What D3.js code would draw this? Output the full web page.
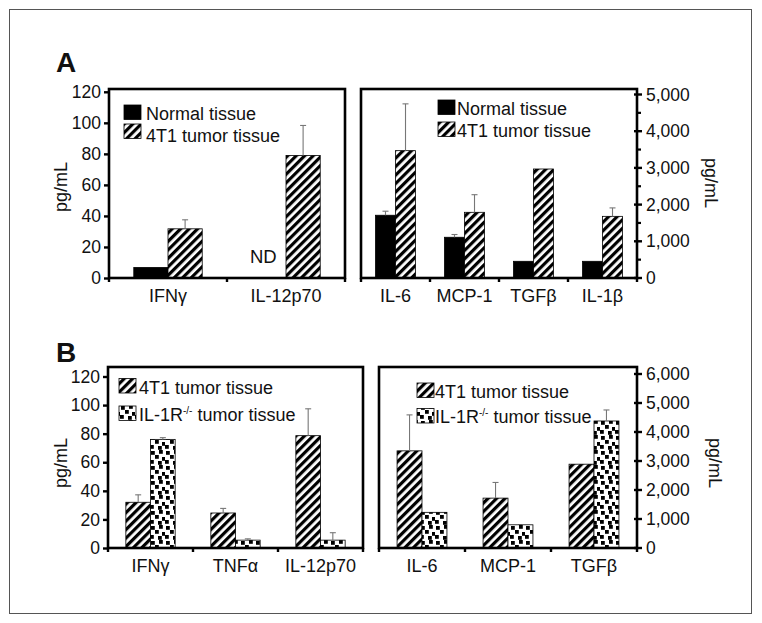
<!DOCTYPE html>
<html><head><meta charset="utf-8">
<script src="https://cdn.jsdelivr.net/npm/d3@7"></script>
<style>body{margin:0;background:#fff}svg{display:block}text{font-family:"Liberation Sans",Arial,sans-serif;fill:#111}</style>
</head><body>
<svg id="c" width="762" height="623"></svg>
<script>
// ---- data ----
const catsA1 = ["IFNγ", "IL-12p70"];
const normalA1 = [6.8, null];          // null = ND
const normalErrA1 = [0, 0];
const tumorA1 = [31.7, 79];
const tumorErrA1 = [5.8, 19.3];

const catsA2 = ["IL-6", "MCP-1", "TGFβ", "IL-1β"];
const normalA2 = [1710, 1110, 455, 455];
const normalErrA2 = [110, 75, 0, 0];
const tumorA2 = [3470, 1790, 2970, 1680];
const tumorErrA2 = [1275, 480, 0, 230];

const catsB1 = ["IFNγ", "TNFα", "IL-12p70"];
const tumorB1 = [32, 24.5, 78.6];
const tumorErrB1 = [5.2, 3.2, 18.8];
const koB1 = [76, 5.5, 5.5];
const koErrB1 = [1.2, 0.9, 5.2];

const catsB2 = ["IL-6", "MCP-1", "TGFβ"];
const tumorB2 = [3350, 1720, 2890];
const tumorErrB2 = [1240, 540, 0];
const koB2 = [1230, 800, 4380];
const koErrB2 = [0, 0, 380];

const ticksLeft = [0, 20, 40, 60, 80, 100, 120];
const ticksA2 = [0, 1000, 2000, 3000, 4000, 5000];
const ticksB2 = [0, 1000, 2000, 3000, 4000, 5000, 6000];

// ---- drawing ----
const svg = d3.select("#c");
const defs = svg.append("defs");
const hatch = defs.append("pattern").attr("id", "hatch").attr("patternUnits", "userSpaceOnUse")
  .attr("width", 6).attr("height", 6).attr("patternTransform", "rotate(45)");
hatch.append("rect").attr("width", 6).attr("height", 6).attr("fill", "#fff");
hatch.append("rect").attr("width", 3.2).attr("height", 6).attr("fill", "#000");
const conf = defs.append("pattern").attr("id", "conf").attr("patternUnits", "userSpaceOnUse")
  .attr("width", 15).attr("height", 15);
conf.append("rect").attr("width", 15).attr("height", 15).attr("fill", "#fff");
[[1,1],[9,0],[5,5],[12,7],[0,10],[8,11]].forEach(p =>
  conf.append("rect").attr("x", p[0]).attr("y", p[1]).attr("width", 3.8).attr("height", 3.8).attr("fill", "#000"));

const fills = { normal: "#000", tumor: "url(#hatch)", ko: "url(#conf)" };

svg.append("rect").attr("x", 9.5).attr("y", 9.5).attr("width", 742).attr("height", 604)
  .attr("fill", "none").attr("stroke", "#555").attr("stroke-width", 1);

function panel(o) {
  const g = svg.append("g");
  const x = d3.scaleBand().domain(o.cats).range([o.x0, o.x1]);
  const y = d3.scaleLinear().domain([0, o.ymaxTick]).range([o.y0, o.yTopTick]);
  const bw = x.bandwidth() * 0.58 / 2;
  o.series.forEach((s, si) => {
    o.cats.forEach((c, i) => {
      const v = s.values[i];
      if (v == null) return;
      const bx = x(c) + x.bandwidth() / 2 - bw + si * bw;
      g.append("rect").attr("x", bx).attr("y", y(v)).attr("width", bw).attr("height", y(0) - y(v))
        .attr("fill", fills[s.key]).attr("stroke", "#000").attr("stroke-width", 0.8);
      const e = s.errs[i];
      if (e > 0) {
        const cx = bx + bw / 2;
        g.append("line").attr("x1", cx).attr("x2", cx).attr("y1", y(v)).attr("y2", y(v + e))
          .attr("stroke", "#777").attr("stroke-width", 1.1);
        g.append("line").attr("x1", cx - 3).attr("x2", cx + 3).attr("y1", y(v + e)).attr("y2", y(v + e))
          .attr("stroke", "#777").attr("stroke-width", 1.1);
      }
    });
  });
  g.append("rect").attr("x", o.x0).attr("y", o.frameTop).attr("width", o.x1 - o.x0).attr("height", o.y0 - o.frameTop)
    .attr("fill", "none").attr("stroke", "#000").attr("stroke-width", 2.6);
  const bounds = o.cats.map(c => x(c)).concat([o.x1]);
  bounds.forEach(b => g.append("line").attr("x1", b).attr("x2", b).attr("y1", o.y0).attr("y2", o.y0 + 4)
    .attr("stroke", "#000").attr("stroke-width", 2.4));
  o.cats.forEach(c => g.append("text").attr("x", x(c) + x.bandwidth() / 2).attr("y", o.catY)
    .attr("text-anchor", "middle").attr("font-size", 18).text(c));
  if (o.side === "left") {
    const ax = g.append("g").attr("transform", `translate(${o.x0},0)`)
      .call(d3.axisLeft(y).tickValues(o.ticks).tickSize(5).tickPadding(3).tickFormat(d3.format("d")));
    ax.select(".domain").remove();
    ax.selectAll("line").attr("stroke-width", 2.4);
    ax.selectAll("text").attr("font-size", 17.5).attr("font-family", "Liberation Sans, Arial, sans-serif").attr("fill", "#111");
    g.append("text").attr("transform", `translate(${o.labX},${o.labY}) rotate(-90)`)
      .attr("text-anchor", "middle").attr("font-size", 18).text("pg/mL");
  } else {
    if (o.minor) {
      o.minor.forEach(t => g.append("line").attr("x1", o.x1).attr("x2", o.x1 + 4).attr("y1", y(t)).attr("y2", y(t))
        .attr("stroke", "#000").attr("stroke-width", 2.2));
    }
    o.ticks.forEach(t => {
      g.append("line").attr("x1", o.x1 - 3).attr("x2", o.x1 + 5).attr("y1", y(t)).attr("y2", y(t))
        .attr("stroke", "#000").attr("stroke-width", 2.4);
      g.append("text").attr("x", o.x1 + 9).attr("y", y(t)).attr("dy", "0.35em")
        .attr("font-size", 17.5).text(d3.format(",")(t));
    });
    g.append("text").attr("transform", `translate(${o.labX},${o.labY}) rotate(90)`)
      .attr("text-anchor", "middle").attr("font-size", 18).text("pg/mL");
  }
  o.legend.forEach((l, i) => {
    g.append("rect").attr("x", l.sx).attr("y", l.sy).attr("width", 17).attr("height", 14.5)
      .attr("fill", fills[l.key]).attr("stroke", "#000").attr("stroke-width", 0.8);
    const t = g.append("text").attr("x", l.tx).attr("y", l.ty).attr("font-size", 18);
    if (l.sup) {
      t.append("tspan").text(l.pre);
      t.append("tspan").attr("font-size", 10).attr("dy", -7).text(l.sup);
      t.append("tspan").attr("dy", 7).text(l.post);
    } else t.text(l.text);
  });
  return { g, x, y, bw };
}

const pA1 = panel({
  cats: catsA1, x0: 109, x1: 345, y0: 278, frameTop: 89, ymaxTick: 120, yTopTick: 91.8,
  series: [{ key: "normal", values: normalA1, errs: normalErrA1 }, { key: "tumor", values: tumorA1, errs: tumorErrA1 }],
  side: "left", ticks: ticksLeft, labX: 67, labY: 187, catY: 302,
  legend: [
    { key: "normal", sx: 124, sy: 105, tx: 146, ty: 120, text: "Normal tissue" },
    { key: "tumor", sx: 124, sy: 124, tx: 146, ty: 141.5, text: "4T1 tumor tissue" }]
});
pA1.g.append("text").attr("x", 250).attr("y", 263).attr("font-size", 18.5).text("ND");

panel({
  cats: catsA2, x0: 361, x1: 637, y0: 278, frameTop: 89, ymaxTick: 5000, yTopTick: 94.5,
  series: [{ key: "normal", values: normalA2, errs: normalErrA2 }, { key: "tumor", values: tumorA2, errs: tumorErrA2 }],
  side: "right", ticks: ticksA2, minor: d3.range(500, 5000, 1000), labX: 705, labY: 183, catY: 302,
  legend: [
    { key: "normal", sx: 438, sy: 100, tx: 457, ty: 115, text: "Normal tissue" },
    { key: "tumor", sx: 438, sy: 122, tx: 457, ty: 137, text: "4T1 tumor tissue" }]
});

panel({
  cats: catsB1, x0: 108, x1: 363, y0: 548, frameTop: 367, ymaxTick: 120, yTopTick: 376.5,
  series: [{ key: "tumor", values: tumorB1, errs: tumorErrB1 }, { key: "ko", values: koB1, errs: koErrB1 }],
  side: "left", ticks: ticksLeft, labX: 67, labY: 463, catY: 572,
  legend: [
    { key: "tumor", sx: 119, sy: 378.5, tx: 139, ty: 394, text: "4T1 tumor tissue" },
    { key: "ko", sx: 119, sy: 406, tx: 139, ty: 421, sup: "-/-", pre: "IL-1R", post: " tumor tissue" }]
});

panel({
  cats: catsB2, x0: 379, x1: 637, y0: 548, frameTop: 367, ymaxTick: 6000, yTopTick: 374,
  series: [{ key: "tumor", values: tumorB2, errs: tumorErrB2 }, { key: "ko", values: koB2, errs: koErrB2 }],
  side: "right", ticks: ticksB2, labX: 709, labY: 463, catY: 572,
  legend: [
    { key: "tumor", sx: 417, sy: 383, tx: 435, ty: 398, text: "4T1 tumor tissue" },
    { key: "ko", sx: 417, sy: 408.5, tx: 435, ty: 423, sup: "-/-", pre: "IL-1R", post: " tumor tissue" }]
});

svg.append("text").attr("x", 56).attr("y", 72).attr("font-size", 28).attr("font-weight", "bold").text("A");
svg.append("text").attr("x", 56).attr("y", 362).attr("font-size", 28).attr("font-weight", "bold").text("B");
</script>
</body></html>
